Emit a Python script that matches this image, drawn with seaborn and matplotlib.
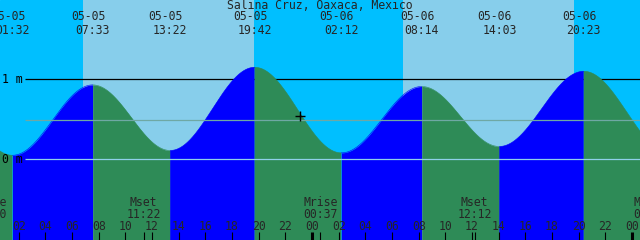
import numpy as np
import pandas as pd
import matplotlib
matplotlib.use("Agg")
import matplotlib.pyplot as plt
import matplotlib.transforms as mtransforms
import seaborn as sns

# ---------------- data ----------------
title = "Salina Cruz, Oaxaca, Mexico"

tide_dates = ["05-04", "05-05", "05-05", "05-05", "05-05", "05-06", "05-06", "05-06", "05-06", "05-07"]
tide_times = ["19:00", "01:32", "07:33", "13:22", "19:42", "02:12", "08:14", "14:03", "20:23", "02:50"]
tide_heights = [1.12, 0.05, 0.93, 0.11, 1.15, 0.08, 0.91, 0.16, 1.10, 0.08]

sun_rise = ["05-05 06:48", "05-06 06:48"]
sun_set = ["05-05 19:39", "05-06 19:40"]

moon_events = ["Mrise", "Mset", "Mrise", "Mset", "Mrise"]
moon_dates = ["05-04", "05-05", "05-06", "05-06", "05-07"]
moon_times = ["23:50", "11:22", "00:37", "12:12", "01:25"]

level_values = [0.0, 1.0]
level_labels = ["0 m", "1 m"]
mean_level = 0.49

now_time = "05-05 23:06"
now_height = 0.54

window_start = 0.6   # hours after 05-05 00:00
window_hours = 48.0
y_min, y_max = -1.009, 1.991

# ---------------- helpers ----------------
def to_hours(date, time):
    day = int(date.split("-")[1]) - 5
    hh, mm = time.split(":")
    return day * 24 + int(hh) + int(mm) / 60.0

def stamp_hours(s):
    d, t = s.split(" ")
    return to_hours(d, t)

tide_t = np.array([to_hours(d, t) for d, t in zip(tide_dates, tide_times)])
tide_h = np.array(tide_heights)

# cosine interpolation between successive extremes
rows = []
for i in range(len(tide_t) - 1):
    ts = np.linspace(tide_t[i], tide_t[i + 1], 300)
    frac = (ts - tide_t[i]) / (tide_t[i + 1] - tide_t[i])
    hs = tide_h[i] + (tide_h[i + 1] - tide_h[i]) * (1 - np.cos(np.pi * frac)) / 2
    phase = "rising" if tide_h[i + 1] > tide_h[i] else "falling"
    for a, b in zip(ts, hs):
        rows.append((a, b, phase, i))
df = pd.DataFrame(rows, columns=["t", "h", "phase", "seg"])

# ---------------- style ----------------
sns.set_theme(style="white")
plt.rcParams["font.family"] = ["DejaVu Sans Mono", "DejaVu Sans"]
FS = 8.3

NIGHT = "#00BFFF"
DAY = "#87CEEB"
FLOOD = "#0000FF"
EBB = "#2E8B57"

fig = plt.figure(figsize=(6.4, 2.4), dpi=100)
ax = fig.add_axes([0, 0, 1, 1])
ax.add_patch(plt.Rectangle((0, 0), 1, 1, transform=ax.transAxes, color=NIGHT, zorder=0))

# day shading
for r, s in zip(sun_rise, sun_set):
    ax.axvspan(stamp_hours(r), stamp_hours(s), color=DAY, zorder=0.5, lw=0)

xpix = lambda px: window_start + px / 640 * window_hours
line_start = xpix(25)
line_end = window_start + window_hours

# 1 m line sits below the tide fill
ax.hlines(level_values[1], line_start, line_end, color="black", lw=0.9, zorder=1)

# tide fill
for seg, g in df.groupby("seg"):
    col = FLOOD if g["phase"].iloc[0] == "rising" else EBB
    ax.fill_between(g["t"], y_min - 1, g["h"], color=col, lw=0, zorder=2)

sns.lineplot(data=df, x="t", y="h", hue="phase", units="seg", estimator=None,
             palette={"rising": FLOOD, "falling": EBB}, lw=0.4, legend=False,
             ax=ax, zorder=2.1)
ax.set_xlim(window_start, window_start + window_hours)
ax.set_ylim(y_min, y_max)
ax.axis("off")

# datum and mean lines over the fill
ax.hlines(level_values[0], line_start, line_end, color="#8FD0EA", lw=0.9, zorder=3)
ax.hlines(mean_level, line_start, line_end, color="#6FA8A4", lw=0.9, zorder=3)

# level labels
for v, lab in zip(level_values, level_labels):
    ax.text(xpix(2), v, lab, fontsize=FS, ha="left", va="center", color="black", zorder=4)

# current time marker
ax.plot(stamp_hours(now_time), now_height, marker="+", ms=6.5, mew=1.0, color="black", zorder=5)

# title and tide labels
fy = lambda py: 1 - py / 240
dx = -4.5 / 640 * window_hours
ax.text(0.5, fy(5.5), title, transform=ax.transAxes, fontsize=FS, ha="center", va="center")
blend = mtransforms.blended_transform_factory(ax.transData, ax.transAxes)
for t, d, tm in zip(tide_t, tide_dates, tide_times):
    ax.text(t + dx, fy(17), d, transform=blend, fontsize=FS, ha="center", va="center", zorder=5)
    ax.text(t, fy(30.5), tm, transform=blend, fontsize=FS, ha="center", va="center", zorder=5)

# hour ticks
tick_h = np.arange(2, 50, 2)
for hh in tick_h:
    thick = (hh % 24 == 0)
    ax.plot([hh, hh], [0, fy(232)], transform=blend, color="black",
            lw=2.2 if thick else 0.8, solid_capstyle="butt", zorder=5)
    ax.text(hh, fy(226), "%02d" % (hh % 24), transform=blend, fontsize=FS,
            ha="center", va="center", zorder=5)

# moon events
for ev, d, tm in zip(moon_events, moon_dates, moon_times):
    t = to_hours(d, tm)
    ax.plot([t, t], [0, fy(232)], transform=blend, color="black", lw=0.8,
            solid_capstyle="butt", zorder=5)
    ax.text(t, fy(202), ev, transform=blend, fontsize=FS, ha="center", va="center", zorder=5)
    ax.text(t, fy(214), tm, transform=blend, fontsize=FS, ha="center", va="center", zorder=5)

fig.savefig("out.png", dpi=100)
